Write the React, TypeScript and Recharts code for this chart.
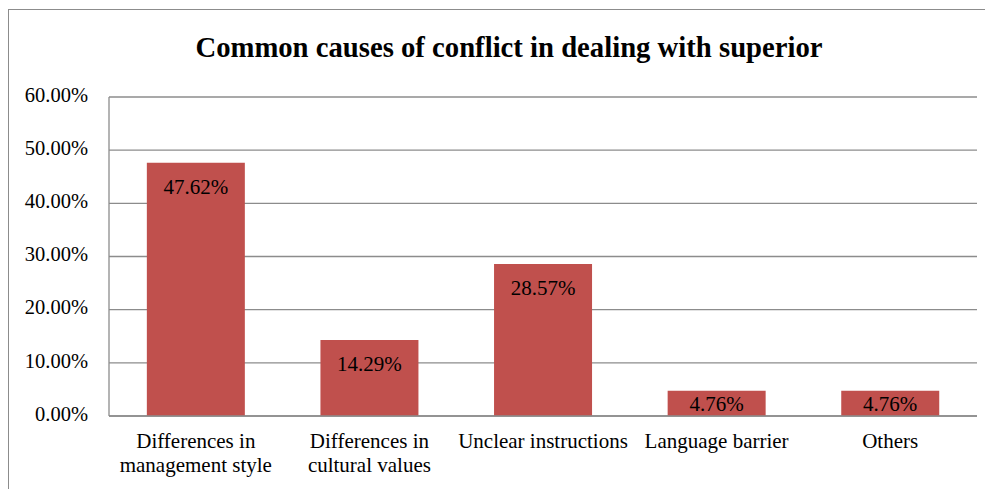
import { BarChart, Bar, XAxis, YAxis, CartesianGrid, LabelList } from 'recharts';

const categories = [
  'Differences in\nmanagement style',
  'Differences in\ncultural values',
  'Unclear instructions',
  'Language barrier',
  'Others',
];
const shares = [47.62, 14.29, 28.57, 4.76, 4.76];
const yTicks = [0, 10, 20, 30, 40, 50, 60];

const data = categories.map((name, i) => ({ name, value: shares[i] }));

const FONT = "'Liberation Serif', 'Times New Roman', serif";
const GRID = '#8c8c8c';

function CategoryTick(props: any) {
  const { x, y, payload } = props;
  const lines = String(payload.value).split('\n');
  return (
    <g transform={`translate(${x},${y})`}>
      {lines.map((line, i) => (
        <text
          key={i}
          x={0}
          y={19 + i * 24}
          textAnchor="middle"
          dominantBaseline="middle"
          style={{ fontFamily: FONT, fontSize: 21 }}
          fill="#000"
        >
          {line}
        </text>
      ))}
    </g>
  );
}

function ValueTick(props: any) {
  const { x, y, payload } = props;
  return (
    <text
      x={x}
      y={y}
      textAnchor="end"
      dominantBaseline="middle"
      style={{ fontFamily: FONT, fontSize: 20.5 }}
      fill="#000"
    >
      {`${Number(payload.value).toFixed(2)}%`}
    </text>
  );
}

function InsideLabel(props: any) {
  const { x, y, width, height, value } = props;
  const cy = Math.min(y + 26, y + height - 10);
  return (
    <text
      x={x + width / 2}
      y={cy}
      textAnchor="middle"
      dominantBaseline="middle"
      style={{ fontFamily: FONT, fontSize: 21 }}
      fill="#000"
    >
      {`${Number(value).toFixed(2)}%`}
    </text>
  );
}

export default function App() {
  return (
    <div
      style={{
        position: 'relative',
        marginTop: 1,
        width: 985,
        height: 480,
        borderLeft: `1px solid ${GRID}`,
        borderTop: `1px solid ${GRID}`,
        fontFamily: FONT,
      }}
    >
      <div
        style={{
          position: 'absolute',
          left: 0,
          top: 21,
          width: 1000,
          textAlign: 'center',
          fontSize: 28.7,
          fontWeight: 'bold',
          color: '#000',
        }}
      >
        Common causes of conflict in dealing with superior
      </div>
      <BarChart
        width={985}
        height={479}
        data={data}
        margin={{ top: 87, right: 17, left: 0, bottom: 0 }}
        barCategoryGap="21.8%"
        style={{ fontFamily: FONT }}
      >
        <CartesianGrid vertical={false} stroke={GRID} strokeWidth={1.3} />
        <XAxis
          dataKey="name"
          height={73}
          tickLine={false}
          axisLine={{ stroke: GRID, strokeWidth: 1.5 }}
          tick={<CategoryTick />}
          interval={0}
        />
        <YAxis
          width={100}
          domain={[0, 60]}
          ticks={yTicks}
          tickLine={false}
          tickSize={0}
          tickMargin={21}
          axisLine={{ stroke: GRID, strokeWidth: 1.3 }}
          tick={<ValueTick />}
        />
        <Bar dataKey="value" fill="#C0504D" isAnimationActive={false}>
          <LabelList dataKey="value" content={<InsideLabel />} />
        </Bar>
      </BarChart>
    </div>
  );
}
